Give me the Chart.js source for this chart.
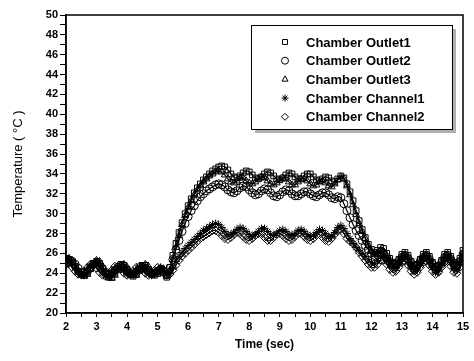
<!DOCTYPE html>
<html>
<head>
<meta charset="utf-8">
<script src="https://cdn.jsdelivr.net/npm/chart.js@4.4.0/dist/chart.umd.min.js"></script>
<style>
  html, body { margin: 0; padding: 0; background: #fff; }
  #wrap { width: 474px; height: 361px; }
</style>
</head>
<body>
<div id="wrap"><canvas id="chart-temp"></canvas></div>
<script>
// sample times (sec)
var times = [
  2.0, 2.1, 2.2, 2.3, 2.4, 2.5, 2.6, 2.7, 2.8, 2.9,
  3.0, 3.1, 3.2, 3.3, 3.4, 3.5, 3.6, 3.7, 3.8, 3.9,
  4.0, 4.1, 4.2, 4.3, 4.4, 4.5, 4.6, 4.7, 4.8, 4.9,
  5.0, 5.1, 5.2, 5.3, 5.4, 5.5, 5.6, 5.7, 5.8, 5.9,
  6.0, 6.1, 6.2, 6.3, 6.4, 6.5, 6.6, 6.7, 6.8, 6.9,
  7.0, 7.1, 7.2, 7.3, 7.4, 7.5, 7.6, 7.7, 7.8, 7.9,
  8.0, 8.1, 8.2, 8.3, 8.4, 8.5, 8.6, 8.7, 8.8, 8.9,
  9.0, 9.1, 9.2, 9.3, 9.4, 9.5, 9.6, 9.7, 9.8, 9.9,
  10.0, 10.1, 10.2, 10.3, 10.4, 10.5, 10.6, 10.7, 10.8, 10.9,
  11.0, 11.1, 11.2, 11.3, 11.4, 11.5, 11.6, 11.7, 11.8, 11.9,
  12.0, 12.1, 12.2, 12.3, 12.4, 12.5, 12.6, 12.7, 12.8, 12.9,
  13.0, 13.1, 13.2, 13.3, 13.4, 13.5, 13.6, 13.7, 13.8, 13.9,
  14.0, 14.1, 14.2, 14.3, 14.4, 14.5, 14.6, 14.7, 14.8, 14.9,
  15.0
];

var outlet1 = [
  25.5, 25.4, 25.1, 24.7, 24.2, 23.9, 23.8, 24.0, 24.5, 25.0,
  25.2, 25.0, 24.5, 24.0, 23.6, 23.6, 24.0, 24.5, 24.9, 24.8,
  24.4, 23.9, 23.7, 23.9, 24.4, 24.8, 24.8, 24.4, 24.0, 23.8,
  24.0, 24.4, 24.2, 23.6, 24.6, 25.8, 27.0, 28.1, 29.1, 30.0,
  30.8, 31.5, 32.1, 32.6, 33.0, 33.4, 33.7, 34.0, 34.3, 34.5,
  34.7, 34.8, 34.7, 34.4, 34.0, 33.7, 33.6, 33.8, 34.1, 34.3,
  34.2, 33.9, 33.6, 33.5, 33.7, 34.0, 34.2, 34.1, 33.8, 33.5,
  33.4, 33.6, 33.9, 34.1, 34.0, 33.7, 33.5, 33.5, 33.8, 34.0,
  34.0, 33.7, 33.4, 33.3, 33.5, 33.7, 33.6, 33.3, 33.2, 33.5,
  33.8, 33.6, 33.0, 32.2, 31.3, 30.3, 29.3, 28.4, 27.6, 26.9,
  26.4, 26.1, 26.3, 26.6, 26.5, 26.0, 25.5, 25.1, 25.0, 25.4,
  25.9, 26.1, 25.8, 25.2, 24.8, 24.9, 25.4, 25.9, 26.1, 25.7,
  25.1, 24.7, 24.8, 25.3, 25.9, 26.1, 25.7, 25.1, 24.9, 25.5,
  26.3
];

var outlet2 = [
  25.0, 25.2, 25.2, 24.9, 24.5, 24.1, 24.0, 24.2, 24.6, 24.9,
  25.0, 24.8, 24.4, 24.1, 23.9, 24.0, 24.3, 24.6, 24.7, 24.5,
  24.2, 24.0, 23.9, 24.1, 24.4, 24.6, 24.5, 24.2, 24.0, 24.0,
  24.2, 24.4, 24.2, 23.9, 24.5, 25.4, 26.4, 27.3, 28.2, 29.0,
  29.7, 30.3, 30.8, 31.3, 31.7, 32.0, 32.3, 32.5, 32.7, 32.9,
  33.0, 32.9, 32.7, 32.4, 32.2, 32.1, 32.3, 32.6, 32.8, 32.7,
  32.4, 32.1, 31.9, 32.0, 32.3, 32.5, 32.4, 32.1, 31.8, 31.7,
  31.9, 32.2, 32.4, 32.3, 32.0, 31.8, 31.8, 32.0, 32.2, 32.2,
  32.0, 31.8, 31.7, 31.9, 32.1, 32.1, 31.9, 31.6, 31.5, 31.7,
  31.6, 31.0, 30.3, 29.6, 28.9, 28.3, 27.8, 27.3, 26.8, 26.4,
  26.0, 25.8, 25.9, 26.1, 26.0, 25.6, 25.2, 24.9, 24.9, 25.2,
  25.6, 25.8, 25.5, 25.0, 24.7, 24.8, 25.2, 25.6, 25.8, 25.4,
  24.9, 24.6, 24.7, 25.1, 25.6, 25.8, 25.4, 24.9, 24.7, 25.2,
  25.9
];

var outlet3 = [
  25.2, 25.5, 25.3, 24.8, 24.3, 23.9, 23.7, 23.9, 24.4, 24.9,
  25.3, 25.2, 24.7, 24.1, 23.6, 23.5, 23.8, 24.3, 24.8, 24.9,
  24.6, 24.1, 23.8, 23.8, 24.2, 24.7, 24.9, 24.7, 24.2, 23.9,
  23.9, 24.3, 24.4, 23.7, 24.3, 25.4, 26.6, 27.8, 28.9, 29.8,
  30.6, 31.3, 31.9, 32.4, 32.8, 33.2, 33.5, 33.8, 34.0, 34.2,
  34.3, 34.2, 33.9, 33.5, 33.2, 33.1, 33.3, 33.6, 33.6, 33.3,
  33.1, 33.0, 33.2, 33.5, 33.7, 33.6, 33.3, 33.0, 32.9, 33.1,
  33.4, 33.6, 33.5, 33.2, 32.9, 32.9, 33.2, 33.5, 33.5, 33.3,
  33.0, 32.8, 32.9, 33.2, 33.3, 33.1, 32.8, 32.7, 33.0, 33.4,
  33.7, 33.5, 32.8, 31.9, 30.9, 29.9, 29.0, 28.2, 27.5, 26.8,
  26.2, 25.9, 26.0, 26.3, 26.2, 25.7, 25.2, 24.8, 24.8, 25.2,
  25.7, 25.9, 25.6, 25.0, 24.6, 24.7, 25.2, 25.7, 25.9, 25.5,
  24.9, 24.5, 24.6, 25.1, 25.7, 25.9, 25.5, 24.9, 24.7, 25.3,
  26.1
];

var channel1 = [
  24.8, 25.1, 25.0, 24.6, 24.1, 23.8, 23.8, 24.1, 24.6, 24.9,
  25.0, 24.7, 24.2, 23.8, 23.6, 23.8, 24.2, 24.6, 24.7, 24.4,
  24.0, 23.8, 23.9, 24.2, 24.6, 24.7, 24.4, 24.0, 23.8, 23.9,
  24.3, 24.6, 24.3, 23.9, 24.0, 24.6, 25.2, 25.7, 26.1, 26.5,
  26.8, 27.1, 27.4, 27.7, 28.0, 28.3, 28.5, 28.7, 28.9, 29.0,
  28.9, 28.6, 28.2, 27.9, 27.9, 28.1, 28.4, 28.6, 28.5, 28.2,
  27.9, 27.7, 27.9, 28.2, 28.5, 28.5, 28.2, 27.9, 27.8, 28.0,
  28.3, 28.4, 28.2, 27.9, 27.8, 28.0, 28.3, 28.4, 28.2, 27.9,
  27.7, 27.8, 28.1, 28.4, 28.3, 28.0, 27.7, 27.7, 28.1, 28.6,
  28.8, 28.5, 28.0, 27.5, 27.0, 26.6, 26.3, 26.0, 25.7, 25.4,
  25.1, 25.0, 25.3, 25.7, 25.8, 25.4, 24.9, 24.5, 24.5, 24.9,
  25.4, 25.6, 25.2, 24.6, 24.2, 24.3, 24.8, 25.4, 25.6, 25.2,
  24.6, 24.1, 24.2, 24.8, 25.4, 25.6, 25.1, 24.5, 24.3, 24.9,
  25.7
];

var channel2 = [
  25.3, 25.0, 24.6, 24.2, 23.9, 23.9, 24.2, 24.6, 24.9, 24.8,
  24.5, 24.1, 23.8, 23.7, 23.9, 24.3, 24.7, 24.7, 24.4, 24.0,
  23.8, 23.9, 24.2, 24.6, 24.7, 24.4, 24.0, 23.8, 23.9, 24.3,
  24.6, 24.5, 24.0, 23.8, 23.9, 24.3, 24.8, 25.3, 25.7, 26.0,
  26.3, 26.6, 26.9, 27.2, 27.5, 27.7, 27.9, 28.1, 28.3, 28.3,
  28.1, 27.8, 27.5, 27.4, 27.6, 27.9, 28.1, 28.0, 27.7, 27.4,
  27.3, 27.5, 27.8, 28.0, 27.9, 27.6, 27.3, 27.3, 27.6, 27.9,
  28.0, 27.8, 27.5, 27.3, 27.4, 27.7, 28.0, 28.0, 27.7, 27.4,
  27.3, 27.5, 27.8, 27.9, 27.6, 27.3, 27.2, 27.5, 27.9, 28.3,
  28.4, 28.0, 27.5, 27.2, 27.0, 26.6, 26.1, 25.7, 25.3, 24.9,
  24.6, 24.6, 24.9, 25.3, 25.3, 24.9, 24.4, 24.1, 24.2, 24.6,
  25.1, 25.2, 24.8, 24.2, 23.9, 24.1, 24.6, 25.1, 25.2, 24.8,
  24.2, 23.9, 24.1, 24.6, 25.1, 25.2, 24.7, 24.1, 24.0, 24.6,
  25.5
];

var seriesLabels = ['Chamber Outlet1', 'Chamber Outlet2', 'Chamber Outlet3', 'Chamber Channel1', 'Chamber Channel2'];
var seriesValues = [outlet1, outlet2, outlet3, channel1, channel2];
var seriesMarkers = ['rect', 'circle', 'triangle', 'star', 'rectRot'];

function toPoints(values) {
    return values.map(function (v, i) { return { x: times[i], y: v }; });
}

var boxFrame = {
    id: 'boxFrame',
    afterDraw: function (chart) {
        var a = chart.chartArea, c = chart.ctx;
        c.save();
        c.strokeStyle = '#000';
        c.lineWidth = 1.5;
        c.strokeRect(a.left, a.top, a.right - a.left, a.bottom - a.top);
        c.restore();
    }
};

// legend drawn inside the plot like the original figure
var insideLegend = {
    id: 'insideLegend',
    afterDraw: function (chart) {
        var a = chart.chartArea, c = chart.ctx;
        var x0 = a.left + 185, y0 = a.top + 10, w = 201, h = 104;
        c.save();
        c.fillStyle = '#b0b0b0';
        c.fillRect(x0 + 4, y0 + 4, w, h);
        c.fillStyle = '#fff';
        c.fillRect(x0, y0, w, h);
        c.strokeStyle = '#000';
        c.lineWidth = 1;
        c.strokeRect(x0 + 0.5, y0 + 0.5, w, h);
        c.font = 'bold 13px "Liberation Sans", Arial, sans-serif';
        c.textBaseline = 'middle';
        chart.data.datasets.forEach(function (ds, i) {
            var yy = y0 + 17 + i * 18.7;
            c.fillStyle = '#fff';
            c.strokeStyle = '#000';
            c.lineWidth = 1;
            Chart.helpers.drawPoint(c, {
                pointStyle: ds.pointStyle, radius: 3.5, borderWidth: 1, rotation: 0
            }, x0 + 34, yy);
            c.fillStyle = '#000';
            c.fillText(ds.label, x0 + 55, yy + 1);
        });
        c.restore();
    }
};

var ctx = document.getElementById('chart-temp');
new Chart(ctx, {
    type: 'line',
    data: {
        datasets: seriesLabels.map(function (lbl, i) {
            return {
                label: lbl,
                data: toPoints(seriesValues[i]),
                borderColor: '#000',
                borderWidth: 1.2,
                pointStyle: seriesMarkers[i],
                pointRadius: 4,
                pointBorderWidth: 1,
                pointBorderColor: '#000',
                pointBackgroundColor: 'rgba(255,255,255,0)',
                tension: 0.3,
                fill: false
            };
        })
    },
    options: {
        responsive: true,
        maintainAspectRatio: false,
        animation: false,
        layout: { padding: { left: 0, top: 15, right: 11, bottom: 0 } },
        plugins: {
            legend: { display: false },
            tooltip: { enabled: false }
        },
        scales: {
            x: {
                type: 'linear',
                min: 2,
                max: 15,
                afterFit: function (s) { s.height = 48; },
                grid: {
                    drawOnChartArea: false,
                    drawTicks: true,
                    tickLength: 4,
                    color: '#000',
                    tickWidth: 1
                },
                border: { color: '#000', width: 1.5 },
                ticks: {
                    stepSize: 0.5,
                    autoSkip: false,
                    maxRotation: 0,
                    padding: 3,
                    color: '#000',
                    font: { family: '"Liberation Sans", Arial, sans-serif', size: 11, weight: 'bold' },
                    callback: function (v) { return Number.isInteger(v) ? String(v) : ''; }
                },
                title: {
                    display: true,
                    text: 'Time (sec)',
                    color: '#000',
                    padding: { top: 0, bottom: 9 },
                    font: { family: '"Liberation Sans", Arial, sans-serif', size: 12, weight: 'bold' }
                }
            },
            y: {
                min: 20,
                max: 50,
                afterFit: function (s) { s.width = 66; },
                grid: {
                    drawOnChartArea: false,
                    drawTicks: true,
                    tickLength: 6,
                    color: '#000',
                    tickWidth: 1
                },
                border: { color: '#000', width: 1.5 },
                ticks: {
                    stepSize: 1,
                    autoSkip: false,
                    padding: 2,
                    color: '#000',
                    font: { family: '"Liberation Sans", Arial, sans-serif', size: 11, weight: 'bold' },
                    callback: function (v) { return v % 2 === 0 ? String(v) : ''; }
                },
                title: {
                    display: true,
                    text: 'Temperature ( °C )',
                    color: '#000',
                    padding: { top: 11, bottom: 0 },
                    font: { family: '"Liberation Sans", Arial, sans-serif', size: 13 }
                }
            }
        }
    },
    plugins: [boxFrame, insideLegend]
});
</script>
</body>
</html>
